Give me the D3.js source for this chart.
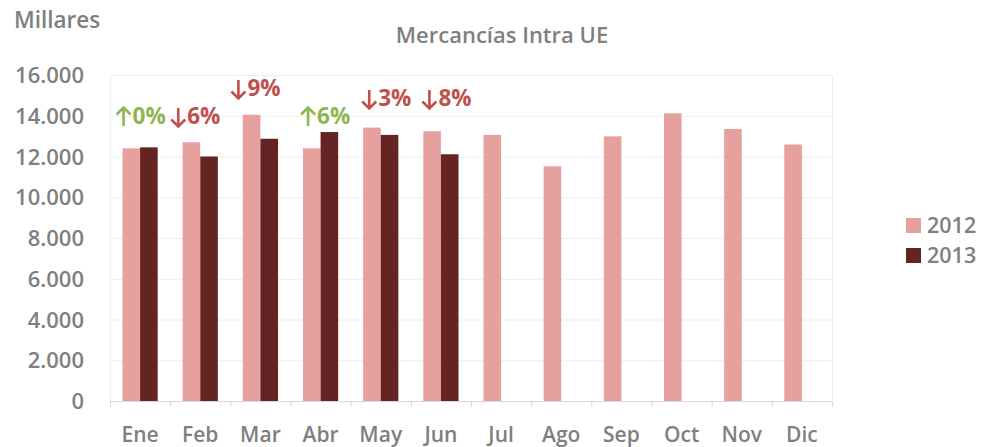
<!DOCTYPE html>
<html>
<head>
<meta charset="utf-8">
<script src="https://cdn.jsdelivr.net/npm/d3@7"></script>
<style>
  html, body { margin: 0; padding: 0; background: #fff; }
  svg { display: block; }
  text { font-family: "Open Sans", sans-serif; font-weight: 600; fill: #7f7f7f; }
</style>
</head>
<body>
<svg id="chart" width="982" height="447"></svg>
<script>
const months = ["Ene","Feb","Mar","Abr","May","Jun","Jul","Ago","Sep","Oct","Nov","Dic"];
const values2012 = [12400, 12700, 14050, 12400, 13420, 13240, 13060, 11520, 12990, 14120, 13350, 12590];
const values2013 = [12450, 12000, 12870, 13200, 13060, 12110, null, null, null, null, null, null];
const seriesNames = ["2012", "2013"];
const seriesColors = ["#e6a19f", "#632423"];
const yTicks = [0, 2000, 4000, 6000, 8000, 10000, 12000, 14000, 16000];
const changePct = ["0%", "6%", "9%", "6%", "3%", "8%"];
const changeUp = [true, false, false, true, false, false];

const svg = d3.select("#chart");

const x = d3.scaleBand().domain(months).range([110, 832]).paddingInner(0.415).paddingOuter(0.2075);
const xCat = d3.scaleBand().domain(months).range([110, 832]).padding(0);
const y = d3.scaleLinear().domain([0, 16000]).range([401, 75]);
const xs = d3.scaleBand().domain(seriesNames).range([0, x.bandwidth()]);

const fmt = v => d3.format(",")(v).replace(/,/g, ".");

// gridlines
svg.append("g").selectAll("line").data(yTicks.filter(d => d > 0)).join("line")
  .attr("x1", 110).attr("x2", 832)
  .attr("y1", d => y(d) + 0.5).attr("y2", d => y(d) + 0.5)
  .attr("stroke", "#ececec").attr("stroke-width", 1);

// plot frame sides
svg.append("line").attr("x1", 110.5).attr("x2", 110.5).attr("y1", 75).attr("y2", 401).attr("stroke", "#eeeeee");
svg.append("line").attr("x1", 832.5).attr("x2", 832.5).attr("y1", 75).attr("y2", 401).attr("stroke", "#eeeeee");

// y axis
const yAxis = d3.axisLeft(y).tickValues(yTicks).tickFormat(fmt).tickSize(0).tickPadding(0);
const gy = svg.append("g").attr("transform", "translate(84,0)").call(yAxis);
gy.select(".domain").remove();
gy.selectAll("text").attr("font-size", 22).attr("dy", "0.35em")
  .style("font-family", "'Open Sans', sans-serif").style("font-weight", 600).attr("fill", "#7f7f7f");

// x axis
const xAxis = d3.axisBottom(xCat).tickSize(0).tickPadding(0);
const gx = svg.append("g").attr("transform", "translate(0,401)").call(xAxis);
gx.select(".domain").attr("stroke", "#d9d9d9");
gx.selectAll("text").attr("font-size", 21).attr("y", 40.5).attr("dy", 0)
  .style("font-family", "'Open Sans', sans-serif").style("font-weight", 600).attr("fill", "#7f7f7f");
// category boundary ticks
svg.append("g").selectAll("line").data(months.concat(["_end"])).join("line")
  .attr("x1", (d, i) => (i < months.length ? xCat(d) : xCat(months[months.length - 1]) + xCat.bandwidth()) + 0.5)
  .attr("x2", (d, i) => (i < months.length ? xCat(d) : xCat(months[months.length - 1]) + xCat.bandwidth()) + 0.5)
  .attr("y1", 401).attr("y2", 407).attr("stroke", "#d9d9d9");

// bars
const series = [values2012, values2013];
series.forEach((vals, si) => {
  svg.append("g").selectAll("rect")
    .data(months.map((m, i) => ({ m, v: vals[i] })).filter(d => d.v != null))
    .join("rect")
    .attr("x", d => x(d.m) + xs(seriesNames[si]))
    .attr("width", xs.bandwidth())
    .attr("y", d => y(d.v))
    .attr("height", d => y(0) - y(d.v))
    .attr("fill", seriesColors[si]);
});

// change labels (arrow drawn as path + percentage text)
const labelBaseline = [124, 124, 96, 124, 106, 106];
const labelShift = [0.5, -5, -5, 4.5, 5.5, 5.5];
const lg2 = svg.append("g").selectAll("g").data(changePct).join("g")
  .attr("transform", (d, i) => `translate(${x(months[i]) + x.bandwidth() / 2 + labelShift[i] - 24.5},${labelBaseline[i]})`);
lg2.append("path")
  .attr("d", (d, i) => changeUp[i]
    ? "M7.5,2 L7.5,-16.5 M0.5,-9.5 L7.5,-16.5 L14.5,-9.5"
    : "M7.5,-16 L7.5,2.5 M0.5,-4.5 L7.5,2.5 L14.5,-4.5")
  .attr("fill", "none")
  .attr("stroke", (d, i) => changeUp[i] ? "#8fb54f" : "#c0504d")
  .attr("stroke-width", 2.6);
lg2.append("text")
  .attr("x", 16.5).attr("y", 0)
  .attr("font-size", 22.5)
  .style("font-weight", 700)
  .style("fill", (d, i) => changeUp[i] ? "#8fb54f" : "#c0504d")
  .text(d => d);

// title & unit
svg.append("text").attr("x", 502).attr("y", 43).attr("text-anchor", "middle")
  .attr("font-size", 22).text("Mercancías Intra UE");
svg.append("text").attr("x", 14).attr("y", 28).attr("font-size", 22.5).text("Millares");

// legend
const lg = svg.append("g");
seriesNames.forEach((s, i) => {
  lg.append("rect").attr("x", 906).attr("y", 218 + i * 30).attr("width", 15).attr("height", 15).attr("fill", seriesColors[i]);
  lg.append("text").attr("x", 927).attr("y", 233 + i * 30).attr("font-size", 21.5).text(s);
});
</script>
</body>
</html>
